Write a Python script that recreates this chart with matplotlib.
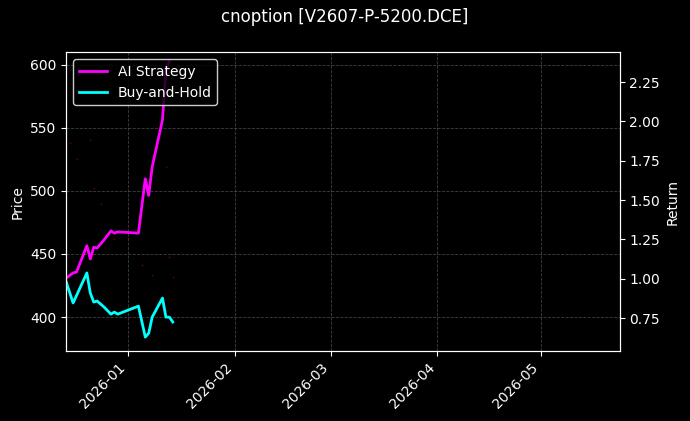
import matplotlib
matplotlib.use("Agg")
import matplotlib.pyplot as plt
import matplotlib.dates as mdates
import pandas as pd
import numpy as np

plt.style.use("dark_background")

ai_dates = pd.to_datetime(["2025-12-14","2025-12-16","2025-12-17","2025-12-20","2025-12-21","2025-12-22",
    "2025-12-23","2025-12-25","2025-12-27","2025-12-28","2025-12-29","2026-01-04","2026-01-06","2026-01-07",
    "2026-01-08","2026-01-11","2026-01-12","2026-01-13"])
ai_vals = [1.005,1.037,1.043,1.21,1.126,1.20,1.196,1.247,1.304,1.29,1.298,1.29,1.635,1.53,1.71,2.01,2.33,2.38]

bh_dates = pd.to_datetime(["2025-12-14","2025-12-16","2025-12-20","2025-12-21","2025-12-22","2025-12-23",
    "2025-12-25","2025-12-27","2025-12-28","2025-12-29","2026-01-04","2026-01-06","2026-01-07","2026-01-08",
    "2026-01-11","2026-01-12","2026-01-13","2026-01-14"])
bh_vals = [0.979,0.846,1.037,0.909,0.852,0.858,0.82,0.775,0.788,0.775,0.826,0.629,0.654,0.756,0.877,0.756,0.756,0.725]

price_dates = pd.to_datetime(["2025-12-15","2025-12-17","2025-12-21","2025-12-22","2025-12-24","2025-12-28",
    "2026-01-05","2026-01-08","2026-01-12","2026-01-14","2026-01-13"])
price_vals = [538,525,540,502,490,462,441,433,519,432,448]

fig, ax = plt.subplots(figsize=(6.9, 4.21), dpi=100)
fig.patch.set_facecolor("black")
ax.set_facecolor("black")
ax.scatter(price_dates, price_vals, s=2, color="red", alpha=0.35, linewidths=0)
ax.set_ylim(373, 610)
ax.set_ylabel("Price")
ax.grid(True, linestyle="--", color="gray", alpha=0.5, linewidth=0.6)

ax2 = ax.twinx()
ax2.plot(ai_dates, ai_vals, color="magenta", lw=2, label="AI Strategy")
ax2.plot(bh_dates, bh_vals, color="cyan", lw=2, label="Buy-and-Hold")
ax2.set_ylim(0.54, 2.44)
ax2.set_ylabel("Return")
leg = ax2.legend(loc="upper left", facecolor="black", edgecolor="white")

ax.set_xlim(pd.Timestamp("2025-12-14"), pd.Timestamp("2026-05-24"))
ax.xaxis.set_major_locator(mdates.MonthLocator())
ax.xaxis.set_major_formatter(mdates.DateFormatter("%Y-%m"))
plt.setp(ax.get_xticklabels(), rotation=45, ha="right")
fig.suptitle("cnoption [V2607-P-5200.DCE]")
fig.subplots_adjust(left=0.096, right=0.898, top=0.876, bottom=0.166)
fig.savefig("out.png", dpi=100, facecolor="black")
